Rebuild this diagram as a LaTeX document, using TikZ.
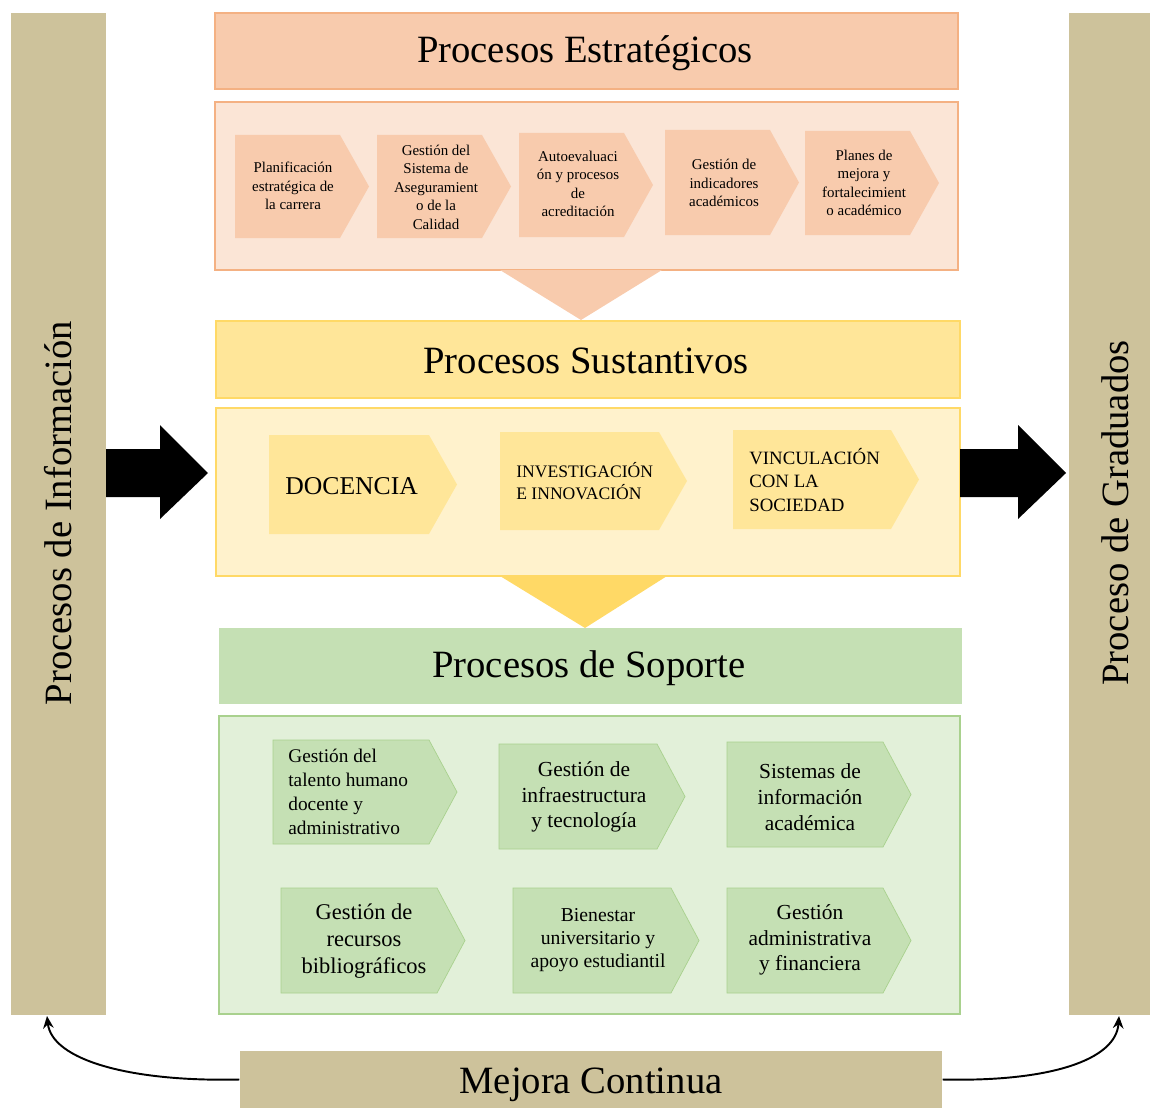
\documentclass[tikz,border=0pt]{standalone}
\usepackage{fontspec}
\setmainfont{Liberation Serif}
\usetikzlibrary{fit, arrows.meta}

\definecolor{tan}{HTML}{CDC29B}
\definecolor{estrfill}{HTML}{F8CBAD}
\definecolor{estrline}{HTML}{F4B183}
\definecolor{estrback}{HTML}{FBE5D6}
\definecolor{sustfill}{HTML}{FFE699}
\definecolor{sustline}{HTML}{FFD966}
\definecolor{sustback}{HTML}{FFF2CC}
\definecolor{sopfill}{HTML}{C5E0B4}
\definecolor{sopline}{HTML}{A9D18E}
\definecolor{sopback}{HTML}{E2F0D9}

% chevron: style, x1, y1, x2, y2, depth of the tip
\newcommand{\chevron}[6]{%
	\path[#1] (#2,#3) -- ({#4-#6},#3) -- (#4,{(#3+#5)/2})
	-- ({#4-#6},#5) -- (#2,#5) -- cycle;}

\begin{document}
\begin{tikzpicture}[x=0.02cm, y=-0.02cm, >={Stealth[length=7pt,width=6pt]},
	box/.style={rectangle, inner sep=0pt, line width=0.8pt},
	title/.style={font=\fontsize{22}{26}\selectfont},
	small/.style={align=center, font=\fontsize{8.5}{10.5}\selectfont},
	mid/.style={align=left, font=\fontsize{10}{12.5}\selectfont},
	sop/.style={align=center, font=\fontsize{12.2}{14.7}\selectfont}]
	
	\useasboundingbox (0,0) rectangle (1151,1108);
	
	% 1. Side bars and bottom box
	\node (info) [box, fill=tan, fit={(11,13) (106,1015)}] {};
	\node (grad) [box, fill=tan, fit={(1069,13) (1150,1015)}] {};
	\node (infotext) [title, rotate=90] at (58,513) {Procesos de Información};
	\node (gradtext) [title, rotate=90] at (1115,513) {Proceso de Graduados};
	\node (mejora) [box, fill=tan, fit={(240,1051) (942,1108)}] {};
	\node (mejoratext) [title] at (591,1085) {Mejora Continua};
	
	% 2. Strategic processes
	\node (estrat) [box, fill=estrfill, draw=estrline, fit={(215,13) (958,89)}] {};
	\node (estrattext) [title] at (585,53) {Procesos Estratégicos};
	\node (estratbox) [box, fill=estrback, draw=estrline, fit={(215,102) (958,270)}] {};
	\fill[estrfill] (500,270) -- (662,270) -- (581,320) -- cycle;
	
	\chevron{fill=estrfill}{235}{135}{369}{238}{29}
	\chevron{fill=estrfill}{377}{135}{511}{238}{29}
	\chevron{fill=estrfill}{519}{133}{653}{237}{29}
	\chevron{fill=estrfill}{665}{130}{799}{235}{29}
	\chevron{fill=estrfill}{805}{131}{939}{235}{29}
	\node (e1) [small] at (293,186) {Planificación\\estratégica de\\la carrera};
	\node (e2) [small] at (436,187) {Gestión del\\Sistema de\\Aseguramient\\o de la\\Calidad};
	\node (e3) [small] at (578,184) {Autoevaluaci\\ón y procesos\\de\\acreditación};
	\node (e4) [small] at (724,183) {Gestión de\\indicadores\\académicos};
	\node (e5) [small] at (864,183) {Planes de\\mejora y\\fortalecimient\\o académico};
	
	% 3. Substantive processes
	\node (sust) [box, fill=sustfill, draw=sustline, fit={(216,321) (960,398)}] {};
	\node (susttext) [title] at (586,361) {Procesos Sustantivos};
	\node (sustbox) [box, fill=sustback, draw=sustline, fit={(216,408) (960,576)}] {};
	\fill[sustline] (500,576) -- (667,576) -- (585,628) -- cycle;
	
	\chevron{fill=sustfill}{269}{435}{457}{534}{28}
	\chevron{fill=sustfill}{500}{432}{687}{530}{28}
	\chevron{fill=sustfill}{733}{430}{919}{529}{28}
	\node (c1) [anchor=west, inner sep=0pt, font=\fontsize{14.6}{17}\selectfont] at (285,486) {DOCENCIA};
	\node (c2) [mid, anchor=west, inner sep=0pt] at (516,481) {INVESTIGACIÓN\\E INNOVACIÓN};
	\node (c3) [mid, anchor=west, inner sep=0pt, font=\fontsize{10.7}{13.4}\selectfont] at (749,480) {VINCULACIÓN\\CON LA\\SOCIEDAD};
	
	% 4. Support processes
	\node (soporte) [box, fill=sopfill, fit={(219,628) (962,704)}] {};
	\node (soportetext) [title] at (589,668) {Procesos de Soporte};
	\node (soportebox) [box, fill=sopback, draw=sopline, fit={(219,716) (960,1014)}] {};
	
	\chevron{fill=sopfill, draw=sopline}{273}{740}{457}{844}{28}
	\chevron{fill=sopfill, draw=sopline}{499}{744}{685}{849}{28}
	\chevron{fill=sopfill, draw=sopline}{727}{742}{911}{847}{28}
	\chevron{fill=sopfill, draw=sopline}{281}{888}{465}{993}{28}
	\chevron{fill=sopfill, draw=sopline}{513}{888}{699}{993}{28}
	\chevron{fill=sopfill, draw=sopline}{727}{888}{911}{993}{28}
	\node (p1) [sop, align=left, anchor=west, inner sep=0pt, font=\fontsize{11}{13.6}\selectfont] at (288,792) {Gestión del\\talento humano\\docente y\\administrativo};
	\node (p2) [sop] at (584,797) {Gestión de\\infraestructura\\y tecnología};
	\node (p3) [sop] at (810,797) {Sistemas de\\información\\académica};
	\node (p4) [sop, font=\fontsize{12.8}{15.5}\selectfont] at (364,941) {Gestión de\\recursos\\bibliográficos};
	\node (p5) [sop, font=\fontsize{11.2}{13.3}\selectfont] at (598,940) {Bienestar\\universitario y\\apoyo estudiantil};
	\node (p6) [sop] at (810,940) {Gestión\\administrativa\\y financiera};
	
	% 5. Block arrows in and out
	\fill[black] (106,449) -- (160,449) -- (160,425) -- (208,473) -- (160,519)
	-- (160,497) -- (106,497) -- cycle;
	\fill[black] (960,449) -- (1018,449) -- (1018,425) -- (1066,473) -- (1018,519)
	-- (1018,497) -- (960,497) -- cycle;
	
	% 6. Feedback of continuous improvement
	\draw[->, line width=1.1pt] (mejora.west) .. controls (130,1082) and (52,1060) .. (47,1016);
	\draw[->, line width=1.1pt] (mejora.east) .. controls (1050,1082) and (1116,1060) .. (1119,1016);
	
\end{tikzpicture}
\end{document}
